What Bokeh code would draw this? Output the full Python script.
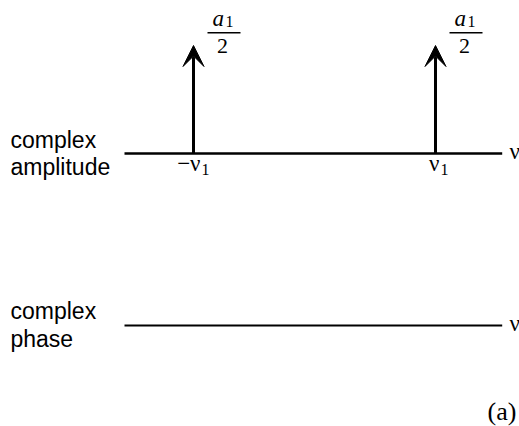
from bokeh.plotting import figure
from bokeh.models import Range1d, ColumnDataSource, Arrow, VeeHead
from bokeh.core.properties import value
from bokeh.embed import file_html
from bokeh.resources import INLINE

# ---- data ----
freqs = [-1.0, 1.0]            # -nu1, +nu1
amplitudes = [0.5, 0.5]        # a1/2 (a1 = 1)
phases = [0.0, 0.0]            # zero phase
tick_main = ["\u2212\u03bd", "\u03bd"]
tick_sub = ["1", "1"]
amp_num = ["a", "a"]
amp_num_sub = ["1", "1"]
amp_den = ["2", "2"]

# ---- layout (pixel geometry) ----
W, H = 519, 426
X0_PX, XS = 314.0, 121.0      # px of nu=0, px per unit of nu
Y0_PX, YS = 153.0, 216.0      # px of amplitude 0, px per unit amplitude
T = -7                         # text baseline correction (px)

def dx(px):   # page px -> data x
    return (px - X0_PX) / XS

def dy(py):   # page px -> data y
    return -(py - Y0_PX) / YS

SANS = value("Liberation Sans")
SERIF = value("Liberation Serif")

p = figure(width=W, height=H, output_backend="svg", toolbar_location=None,
           x_range=Range1d(-X0_PX / XS, (W - X0_PX) / XS),
           y_range=Range1d(-(H - Y0_PX) / YS, Y0_PX / YS),
           min_border=0, min_border_left=0, min_border_right=0,
           min_border_top=0, min_border_bottom=0)
p.xaxis.visible = False
p.yaxis.visible = False
p.grid.visible = False
p.outline_line_color = None
p.background_fill_color = "white"
p.border_fill_color = "white"

x_left, x_right = dx(124), dx(501.7)
phase_y = dy(325)

# axes lines
p.segment(x0=[x_left], y0=[0], x1=[x_right], y1=[0], line_color="black", line_width=2.5)
p.segment(x0=[x_left], y0=[phase_y], x1=[x_right], y1=[phase_y], line_color="black", line_width=2)

# delta arrows
src = ColumnDataSource(dict(
    x=freqs, y0=[0.0] * len(freqs), y1=amplitudes,
    main=tick_main, sub=tick_sub,
    num=amp_num, numsub=amp_num_sub, den=amp_den,
    main_dx=[7, 4], sub_dx=[8, 5],
))
p.add_layout(Arrow(end=VeeHead(size=21, fill_color="black", line_color="black", line_width=1),
                   x_start="x", y_start="y0", x_end="x", y_end="y1",
                   line_width=3, line_color="black", source=src))

# tick labels under the axis
p.text(x="x", y="y0", text="main", source=src, x_offset="main_dx", y_offset=17 + T,
       text_align="right", text_baseline="alphabetic", text_font=SERIF,
       text_font_size="23px", text_color="black")
p.text(x="x", y="y0", text="sub", source=src, x_offset="sub_dx", y_offset=23 + T,
       text_align="left", text_baseline="alphabetic", text_font=SERIF,
       text_font_size="16px", text_color="black")

# a1/2 fraction labels at the arrow tips
p.text(x="x", y="y1", text="num", source=src, x_offset=19, y_offset=-20 + T,
       text_align="left", text_baseline="alphabetic", text_font=SERIF,
       text_font_style="italic", text_font_size="23px", text_color="black")
p.text(x="x", y="y1", text="numsub", source=src, x_offset=32, y_offset=-17 + T,
       text_align="left", text_baseline="alphabetic", text_font=SERIF,
       text_font_size="16px", text_color="black")
p.segment(x0=[f + 14 / XS for f in freqs], y0=[a + 12.7 / YS for a in amplitudes],
          x1=[f + 47 / XS for f in freqs], y1=[a + 12.7 / YS for a in amplitudes],
          line_color="black", line_width=1.5)
p.text(x="x", y="y1", text="den", source=src, x_offset=29, y_offset=7 + T,
       text_align="center", text_baseline="alphabetic", text_font=SERIF,
       text_font_size="22px", text_color="black")

# axis end labels
p.text(x=[dx(509), dx(509)], y=[0, phase_y], text=["\u03bd", "\u03bd"], y_offset=5 + T,
       text_align="left", text_baseline="alphabetic", text_font=SERIF,
       text_font_size="23px", text_color="black")

# row labels
p.text(x=[dx(10)] * 4, y=[dy(146), dy(173), dy(317), dy(345)],
       text=["complex", "amplitude", "complex", "phase"], y_offset=T,
       text_align="left", text_baseline="alphabetic", text_font=SANS,
       text_font_size="23px", text_color="black")

# panel label
p.text(x=[dx(487)], y=[dy(418)], text=["(a)"], text_align="left", y_offset=T,
       text_baseline="alphabetic", text_font=SERIF, text_font_size="26px",
       text_color="black")

open("out.html", "w").write(file_html(p, INLINE))
